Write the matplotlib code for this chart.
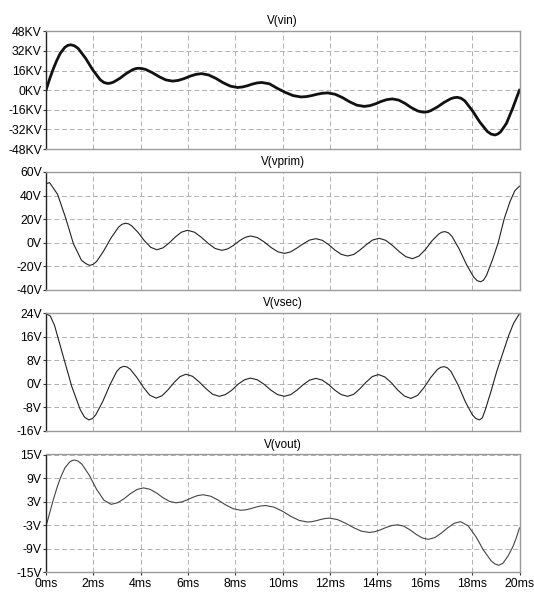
import matplotlib
matplotlib.use('Agg')
import matplotlib.pyplot as plt

plt.rcParams['font.family'] = ['Liberation Sans', 'DejaVu Sans']
plt.rcParams['axes.unicode_minus'] = False

# Time axis in ms, values
vin_t = [0, 0.15, 0.3, 0.45, 0.6, 0.8, 0.93, 1.05, 1.2, 1.36, 1.67, 1.98, 2.29, 2.445, 2.6, 2.73,
         2.86, 3.13, 3.39, 3.66, 3.79, 3.92, 4.06, 4.21, 4.49, 4.78, 5.06, 5.35, 5.59, 5.84, 6.08,
         6.33, 6.57, 6.87, 7.18, 7.48, 7.79, 8.09, 8.29, 8.5, 8.7, 8.91, 9.11, 9.44, 9.77, 10.11,
         10.44, 10.77, 11.0, 11.22, 11.45, 11.67, 11.9, 12.21, 12.52, 12.82, 13.13, 13.44, 13.68,
         13.92, 14.15, 14.39, 14.63, 14.9, 15.17, 15.43, 15.7, 15.84, 15.97, 16.11, 16.25, 16.53,
         16.81, 17.09, 17.23, 17.37, 17.53, 17.69, 18.0, 18.32, 18.64, 18.8, 18.96, 19.08, 19.2,
         19.45, 19.72, 19.86, 20]
vin_kv = [0, 9, 17, 24, 30, 35, 36.6, 37, 36.2, 34.0, 26.1, 16.4, 8.5, 6.3, 5.5, 5.8,
          6.7, 9.8, 13.6, 16.7, 17.6, 17.9, 17.6, 16.9, 14.3, 11.0, 8.4, 7.4, 8.0, 9.5, 11.4,
          12.9, 13.5, 12.4, 9.6, 6.1, 3.3, 2.2, 2.6, 3.6, 4.9, 5.9, 6.3, 5.2, 1.5, -1.8,
          -4.4, -5.5, -5.2, -4.4, -3.3, -2.5, -2.2, -3.3, -6.0, -9.4, -12.2, -13.2, -12.6,
          -11.1, -9.2, -7.7, -7.1, -8.1, -10.8, -14.2, -16.9, -17.6, -17.9, -17.6, -16.7, -13.7,
          -10.0, -7.0, -6.1, -5.8, -6.55, -8.7, -16.4, -25.9, -33.6, -35.75, -36.5, -35.7, -34,
          -27, -14.3, -7, 0]

vprim_t = [0, 0.15, 0.49, 0.83, 1.16, 1.5, 1.67, 1.84, 1.99, 2.14, 2.44, 2.75, 3.06, 3.21, 3.36,
           3.49, 3.62, 3.89, 4.15, 4.42, 4.68, 4.94, 5.2, 5.46, 5.72, 5.98, 6.27, 6.56, 6.85,
           7.14, 7.43, 7.67, 7.92, 8.16, 8.41, 8.65, 8.93, 9.22, 9.5, 9.79, 10.07, 10.32, 10.58,
           10.87, 11.13, 11.4, 11.67, 11.94, 12.2, 12.47, 12.74, 13.01, 13.27, 13.54, 13.8, 14.07,
           14.35, 14.63, 14.92, 15.2, 15.48, 15.75, 16.03, 16.3, 16.58, 16.71, 16.85, 17.0, 17.15,
           17.45, 17.76, 18.06, 18.21, 18.36, 18.48, 18.6, 18.85, 19.1, 19.35, 19.6, 19.8, 20]
vprim_v = [50, 51, 41, 21, -1, -15, -17.6, -19.3, -18.4, -15.9, -6.9, 4.1, 13.1, 15.6, 16.5,
           15.95, 14.3, 8.7, 1.8, -3.9, -6.0, -4.4, -0.3, 4.8, 8.9, 10.5, 8.9, 4.6, -0.6,
           -4.9, -6.5, -5.3, -2.3, 1.5, 4.5, 5.7, 4.3, 0.6, -4.0, -7.7, -9.1, -7.9, -4.8,
           -0.9, 2.2, 3.4, 2.0, -1.7, -6.2, -9.9, -11.3, -9.9, -6.1, -1.5, 2.3, 3.7,
           2.0, -2.3, -7.6, -11.9, -13.6, -11.4, -5.7, 1.5, 7.2, 8.85, 9.4, 8.35, 5.3,
           -5.3, -18.5, -29.1, -32.2, -33.2, -31.8, -28, -15, 0, 20, 35, 44, 48]

vsec_t = [0, 0.18, 0.36, 0.72, 1.09, 1.45, 1.63, 1.81, 1.96, 2.1, 2.4, 2.7, 2.99, 3.14, 3.29,
          3.43, 3.56, 3.83, 4.11, 4.38, 4.65, 4.9, 5.15, 5.41, 5.66, 5.91, 6.19, 6.47, 6.76,
          7.04, 7.32, 7.58, 7.85, 8.11, 8.38, 8.64, 8.93, 9.21, 9.5, 9.78, 10.07, 10.34, 10.6,
          10.87, 11.13, 11.4, 11.67, 11.94, 12.2, 12.47, 12.74, 13.0, 13.26, 13.52, 13.78, 14.04,
          14.31, 14.59, 14.86, 15.14, 15.41, 15.69, 15.97, 16.25, 16.53, 16.67, 16.81, 16.96,
          17.11, 17.41, 17.71, 18.01, 18.16, 18.31, 18.43, 18.55, 18.8, 19.05, 19.3, 19.55,
          19.75, 20]
vsec_v = [23.8, 23.0, 19.8, 9.5, -1.0, -8.9, -11.4, -12.3, -11.85, -10.6, -6.0, -0.4, 4.2, 5.45,
          5.9, 5.65, 4.9, 2.2, -1.2, -3.9, -4.9, -4.1, -2.1, 0.4, 2.4, 3.2, 2.5, 0.6, -1.7,
          -3.6, -4.3, -3.7, -2.2, -0.2, 1.3, 1.9, 1.3, -0.2, -2.2, -3.7, -4.3, -3.7, -2.2,
          -0.3, 1.2, 1.8, 1.2, -0.3, -2.2, -3.7, -4.3, -3.6, -1.7, 0.5, 2.4, 3.1,
          2.3, 0.3, -2.2, -4.2, -5.0, -4.0, -1.3, 2.1, 4.8, 5.55, 5.8, 5.35,
          4.1, -0.5, -6.1, -10.6, -11.85, -12.3, -11.6, -9.0, -2.5, 4.5, 10.5, 16.5,
          20.5, 23.8]

vout_t = [0, 0.15, 0.3, 0.45, 0.6, 0.8, 1.0, 1.1, 1.21, 1.36, 1.52, 1.83, 2.13, 2.44, 2.75, 3.02,
          3.3, 3.57, 3.85, 4.12, 4.39, 4.67, 4.94, 5.22, 5.49, 5.72, 5.95, 6.18, 6.41, 6.64,
          6.96, 7.27, 7.59, 7.91, 8.23, 8.44, 8.65, 8.86, 9.07, 9.28, 9.63, 9.99, 10.34, 10.7,
          11.05, 11.23, 11.42, 11.6, 11.79, 11.97, 12.3, 12.64, 12.98, 13.31, 13.65, 13.89,
          14.13, 14.37, 14.61, 14.85, 15.11, 15.37, 15.63, 15.89, 16.15, 16.42, 16.69, 16.97,
          17.24, 17.51, 17.83, 18.16, 18.48, 18.81, 18.97, 19.13, 19.3, 19.5, 19.72, 19.86, 20]
vout_v = [-3.3, 0, 3.3, 6.3, 8.9, 11.6, 13.1, 13.45, 13.6, 13.3, 12.5, 9.7, 6.2, 3.4, 2.3, 2.7,
          3.75, 5.05, 6.1, 6.5, 6.14, 5.2, 4.0, 3.06, 2.7, 2.9, 3.4, 4.04, 4.55, 4.75,
          4.37, 3.39, 2.16, 1.18, 0.8, 0.91, 1.21, 1.59, 1.89, 2.0, 1.6, 0.55, -0.75, -1.8,
          -2.2, -2.1, -1.85, -1.55, -1.3, -1.2, -1.55, -2.46, -3.59, -4.5, -4.85, -4.66,
          -4.18, -3.57, -3.09, -2.9, -3.25, -4.18, -5.32, -6.25, -6.6, -6.17, -5.05, -3.65,
          -2.53, -2.1, -3.16, -5.94, -9.37, -12.14, -12.9, -13.2, -12.7, -11.0, -8.5, -6.3, -3.7]

x_ticks = [0, 2, 4, 6, 8, 10, 12, 14, 16, 18, 20]
x_labels = ['0ms', '2ms', '4ms', '6ms', '8ms', '10ms', '12ms', '14ms', '16ms', '18ms', '20ms']

panels = [
    ('V(vin)', vin_t, vin_kv, [-48, -32, -16, 0, 16, 32, 48],
     ['-48KV', '-32KV', '-16KV', '0KV', '16KV', '32KV', '48KV'], 2.0, '#111111'),
    ('V(vprim)', vprim_t, vprim_v, [-40, -20, 0, 20, 40, 60],
     ['-40V', '-20V', '0V', '20V', '40V', '60V'], 0.8, '#222222'),
    ('V(vsec)', vsec_t, vsec_v, [-16, -8, 0, 8, 16, 24],
     ['-16V', '-8V', '0V', '8V', '16V', '24V'], 0.8, '#222222'),
    ('V(vout)', vout_t, vout_v, [-15, -9, -3, 3, 9, 15],
     ['-15V', '-9V', '-3V', '3V', '9V', '15V'], 0.8, '#444444'),
]

W, H = 534, 594
fig = plt.figure(figsize=(W / 100, H / 100), dpi=100)
left, right = 46, 519.5
tops = [31.3, 172.0, 313.0, 454.5]
ax_h = 117.8

for i, (title, t, v, yt, yl, lw, col) in enumerate(panels):
    ax = fig.add_axes([left / W, 1 - (tops[i] + ax_h) / H, (right - left) / W, ax_h / H])
    ax.plot(t, v, color=col, lw=lw, solid_joinstyle='round')
    ax.set_xlim(0, 20)
    ax.set_ylim(yt[0], yt[-1])
    ax.set_xticks(x_ticks)
    ax.set_yticks(yt)
    ax.set_yticklabels(yl)
    ax.grid(True, color='#b0b0b0', lw=0.7, ls=(0, (5, 3)))
    ax.set_title(title, fontsize=8.4, pad=5)
    ax.tick_params(axis='y', length=2.5, width=0.8, pad=0.5, labelsize=8.8, color='#333333')
    if i == len(panels) - 1:
        ax.set_xticklabels(x_labels)
        ax.tick_params(axis='x', length=2.5, width=0.8, pad=1.5, labelsize=8.8, color='#333333')
    else:
        ax.tick_params(axis='x', length=0, labelbottom=False)
    for side in ['top', 'right', 'bottom']:
        ax.spines[side].set_color('#9a9a9a')
        ax.spines[side].set_linewidth(1.0)
    ax.spines['left'].set_color('#222222')
    ax.spines['left'].set_linewidth(1.0)

plt.savefig('out.png', dpi=100)
